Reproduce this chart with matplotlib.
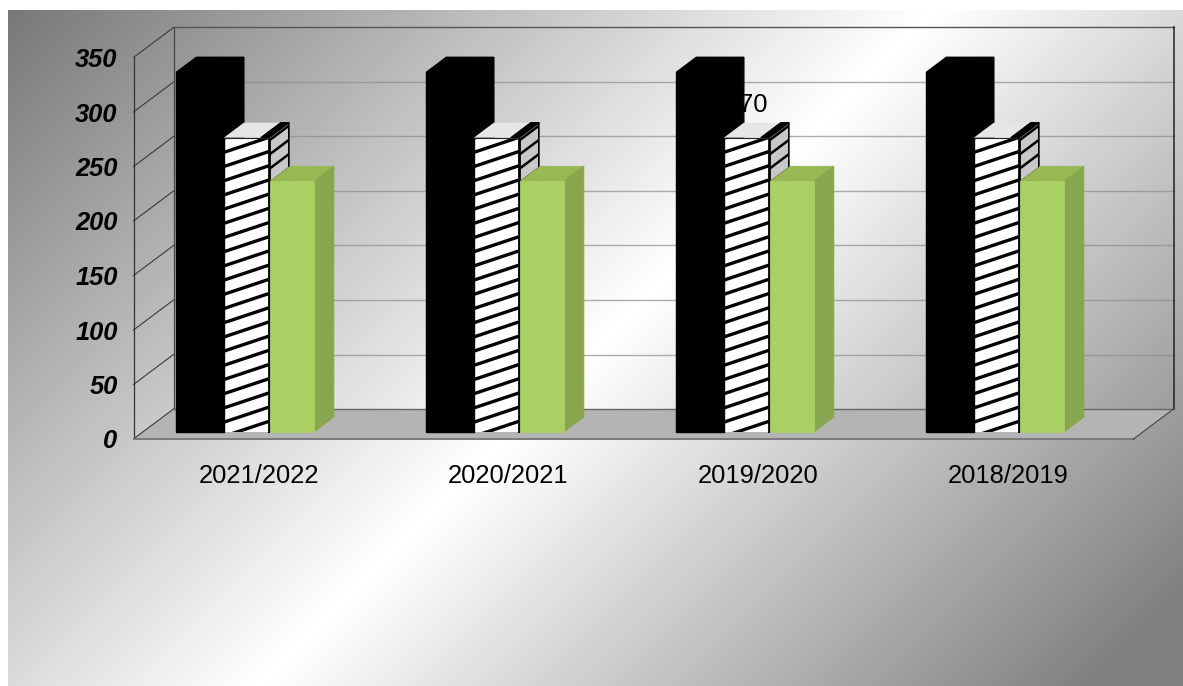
"""3D style clustered bars on a grey diagonal gradient, drawn with an oblique projection."""

import matplotlib
matplotlib.use("Agg")  # headless rendering
import matplotlib.pyplot as plt
import numpy as np

plt.rcParams["font.family"] = ["Liberation Sans", "DejaVu Sans"]

categories = ["2021/2022", "2020/2021", "2019/2020", "2018/2019"]
black_values = [330, 330, 330, 330]
hatched_values = [270, 270, 270, 270]
green_values = [230, 230, 230, 230]
y_ticks = [0, 50, 100, 150, 200, 250, 300, 350]

FIG_W, FIG_H = 1183, 686
LEFT, BOTTOM, RIGHT, TOP = 133.5, 439.0, 1133.5, 57.5  # front plane, in pixels
PX_PER_CAT = (RIGHT - LEFT) / len(categories)
PX_PER_VAL = (BOTTOM - TOP) / 350
DEPTH_X = 40 / PX_PER_CAT
DEPTH_Y = 30 / PX_PER_VAL
BAR_D0, BAR_D1 = 7 / 30, 22 / 30
# left edge and width of each series, as a share of one category
OFFSETS = {"black": 33.5 / PX_PER_CAT, "hatched": 81 / PX_PER_CAT, "green": 127.5 / PX_PER_CAT}
WIDTHS = {"black": 47.5 / PX_PER_CAT, "hatched": 45 / PX_PER_CAT, "green": 43.5 / PX_PER_CAT}


def proj(x, v, d):
    """Category position, value and depth (0 front, 1 back) to axes data coords."""
    return x + d * DEPTH_X, v + d * DEPTH_Y


def face(ax, pts, color, z, edge=None, lw=0.0):
    xs, ys = zip(*[proj(*p) for p in pts])
    patches = ax.fill(xs, ys, facecolor=color, edgecolor=edge or color, linewidth=lw,
                      zorder=z, clip_on=False)
    return patches[0]


def solid_bar(ax, x, width, val, front, top, side, z, lw=0.6):
    x1 = x + width
    face(ax, [(x, val, BAR_D0), (x, val, BAR_D1), (x1, val, BAR_D1), (x1, val, BAR_D0)], top, z, lw=lw)
    face(ax, [(x1, 0, BAR_D0), (x1, val, BAR_D0), (x1, val, BAR_D1), (x1, 0, BAR_D1)], side, z, lw=lw)
    face(ax, [(x, 0, BAR_D0), (x, val, BAR_D0), (x1, val, BAR_D0), (x1, 0, BAR_D0)], front, z, lw=lw)


def stripes(ax, patch, x0, x1, v_start, v_end, rise, z, lw):
    step = 14.2 / PX_PER_VAL
    for v in np.arange(v_start, v_end, step):
        line, = ax.plot([x0, x1], [v, v + rise], color="black", lw=lw, zorder=z,
                        solid_capstyle="butt")
        line.set_clip_box(None)
        line.set_clip_path(patch)


def hatched_bar(ax, x, width, val, z):
    x1 = x + width
    face(ax, [(x, val, BAR_D0), (x, val, BAR_D1), (x1, val, BAR_D1), (x1, val, BAR_D0)], "#e6e6e6", z)
    # dark stripe cutting the right corner of the top face
    tx, ty = zip(*[proj(x1 - 8 / PX_PER_CAT, val, BAR_D0), proj(x1, val, BAR_D0),
                   proj(x1, val, BAR_D1), proj(x1 - 8 / PX_PER_CAT, val, BAR_D1)])
    ax.fill(tx, ty, color="black", zorder=z + 0.1, clip_on=False)

    side_pts = [(x1, 0, BAR_D0), (x1, val, BAR_D0), (x1, val, BAR_D1), (x1, 0, BAR_D1)]
    side = face(ax, side_pts, "#c8c8c8", z + 0.2)
    sx = proj(x1, 0, BAR_D0)[0]
    stripes(ax, side, sx, sx + (BAR_D1 - BAR_D0) * DEPTH_X, 0, val + 14, (BAR_D1 - BAR_D0) * DEPTH_Y,
            z + 0.3, 1.8)
    sxs, sys = zip(*[proj(*p) for p in side_pts])
    ax.plot(sxs + sxs[:1], sys + sys[:1], color="black", lw=1.2, zorder=z + 0.35, clip_on=False)

    front_pts = [(x, 0, BAR_D0), (x, val, BAR_D0), (x1, val, BAR_D0), (x1, 0, BAR_D0)]
    front = face(ax, front_pts, "white", z + 0.4)
    fx, fy = proj(x, 0, BAR_D0)
    stripes(ax, front, fx, fx + width, fy - 4, fy + val + 4, 15 / PX_PER_VAL, z + 0.5, 2.4)
    exs, eys = zip(*[proj(*p) for p in [(x1, 0, BAR_D0), (x1, val, BAR_D0)]])
    ax.plot(exs, eys, color="black", lw=2.0, zorder=z + 0.6, clip_on=False, solid_capstyle="butt")
    exs, eys = zip(*[proj(*p) for p in [(x, 0, BAR_D0), (x, val, BAR_D0)]])
    ax.plot(exs, eys, color="black", lw=1.0, zorder=z + 0.6, clip_on=False, solid_capstyle="butt")
    exs, eys = zip(*[proj(*p) for p in [(x, val, BAR_D0), (x1, val, BAR_D0)]])
    ax.plot(exs, eys, color="#222222", lw=0.8, zorder=z + 0.6, clip_on=False)


def plot_chart(save_path="out.png"):
    fig = plt.figure(figsize=(FIG_W / 100, FIG_H / 100), dpi=100, facecolor="white")

    # background: diagonal grey, white through the middle, grey again
    bg = fig.add_axes([8 / FIG_W, 0, (FIG_W - 8) / FIG_W, (FIG_H - 10) / FIG_H])
    gy, gx = np.mgrid[0:FIG_H - 10, 0:FIG_W - 8]
    t = (gx + gy) / (FIG_W - 8 + FIG_H - 10)
    falling = np.maximum(1 - 0.5 * (t - 0.5) / 0.45, 0.5)
    shade = np.where(t < 0.5, 0.47 + 0.53 * t / 0.5, falling)
    bg.imshow(shade, cmap="gray", vmin=0, vmax=1, aspect="auto", interpolation="bilinear")
    bg.axis("off")

    ax = fig.add_axes([LEFT / FIG_W, (FIG_H - BOTTOM) / FIG_H,
                       (RIGHT - LEFT) / FIG_W, (BOTTOM - TOP) / FIG_H])
    ax.patch.set_visible(False)
    ax.set_xlim(0, len(categories))
    ax.set_ylim(0, 350)
    for spine in ax.spines.values():
        spine.set_visible(False)

    ax.set_xticks(np.arange(len(categories)) + 0.5, categories, fontsize=18.4)
    ax.set_yticks(y_ticks, [str(v) for v in y_ticks], fontsize=18.4, fontweight="bold", fontstyle="italic")
    ax.tick_params(axis="both", length=0)
    ax.tick_params(axis="y", pad=11.5)
    ax.tick_params(axis="x", pad=18)

    n = len(categories)
    # floor
    face(ax, [(0, 0, 0), (n, 0, 0), (n, 0, 1), (0, 0, 1)], "#b4b4b4", 1)

    # walls and grid
    for v in y_ticks[1:-1]:
        xs, ys = zip(proj(0, v, 1), proj(n, v, 1))
        ax.plot(xs, ys, color="#8c8c8c", alpha=0.7, lw=1.0, zorder=1.5, clip_on=False)
    for v in y_ticks:
        xs, ys = zip(proj(0, v, 0), proj(0, v, 1))
        ax.plot(xs, ys, color="#3a3a3a", lw=0.8, zorder=1.6, clip_on=False)
    for pts, col, lw in [
        ([(0, 0, 0), (0, 350, 0)], "#333333", 0.9),
        ([(0, 0, 1), (0, 350, 1)], "#444444", 0.9),
        ([(0, 350, 1), (n, 350, 1)], "#555555", 1.0),
        ([(n, 0, 1), (n, 350, 1)], "#222222", 1.1),
        ([(0, 0, 1), (n, 0, 1)], "#666666", 1.0),
        ([(0, 0, 0), (n, 0, 0)], "#7a7a7a", 1.4),
        ([(n, 0, 0), (n, 0, 1)], "#444444", 0.8),
    ]:
        xs, ys = zip(*[proj(*p) for p in pts])
        ax.plot(xs, ys, color=col, lw=lw, zorder=1.7, clip_on=False)

    # only one data label survives, mostly hidden behind the black bar
    ax.text(2.453, 306.5, str(hatched_values[2]), fontsize=18.4, ha="center", va="center", zorder=2)

    for i in range(n):
        solid_bar(ax, i + OFFSETS["black"], WIDTHS["black"], black_values[i], "black", "black", "black", 3, lw=1.0)
        hatched_bar(ax, i + OFFSETS["hatched"], WIDTHS["hatched"], hatched_values[i], 4)
        solid_bar(ax, i + OFFSETS["green"], WIDTHS["green"], green_values[i], "#a9d063", "#98b854", "#88a64e", 5)

    fig.savefig(save_path, dpi=100)


if __name__ == "__main__":
    plot_chart("out.png")
